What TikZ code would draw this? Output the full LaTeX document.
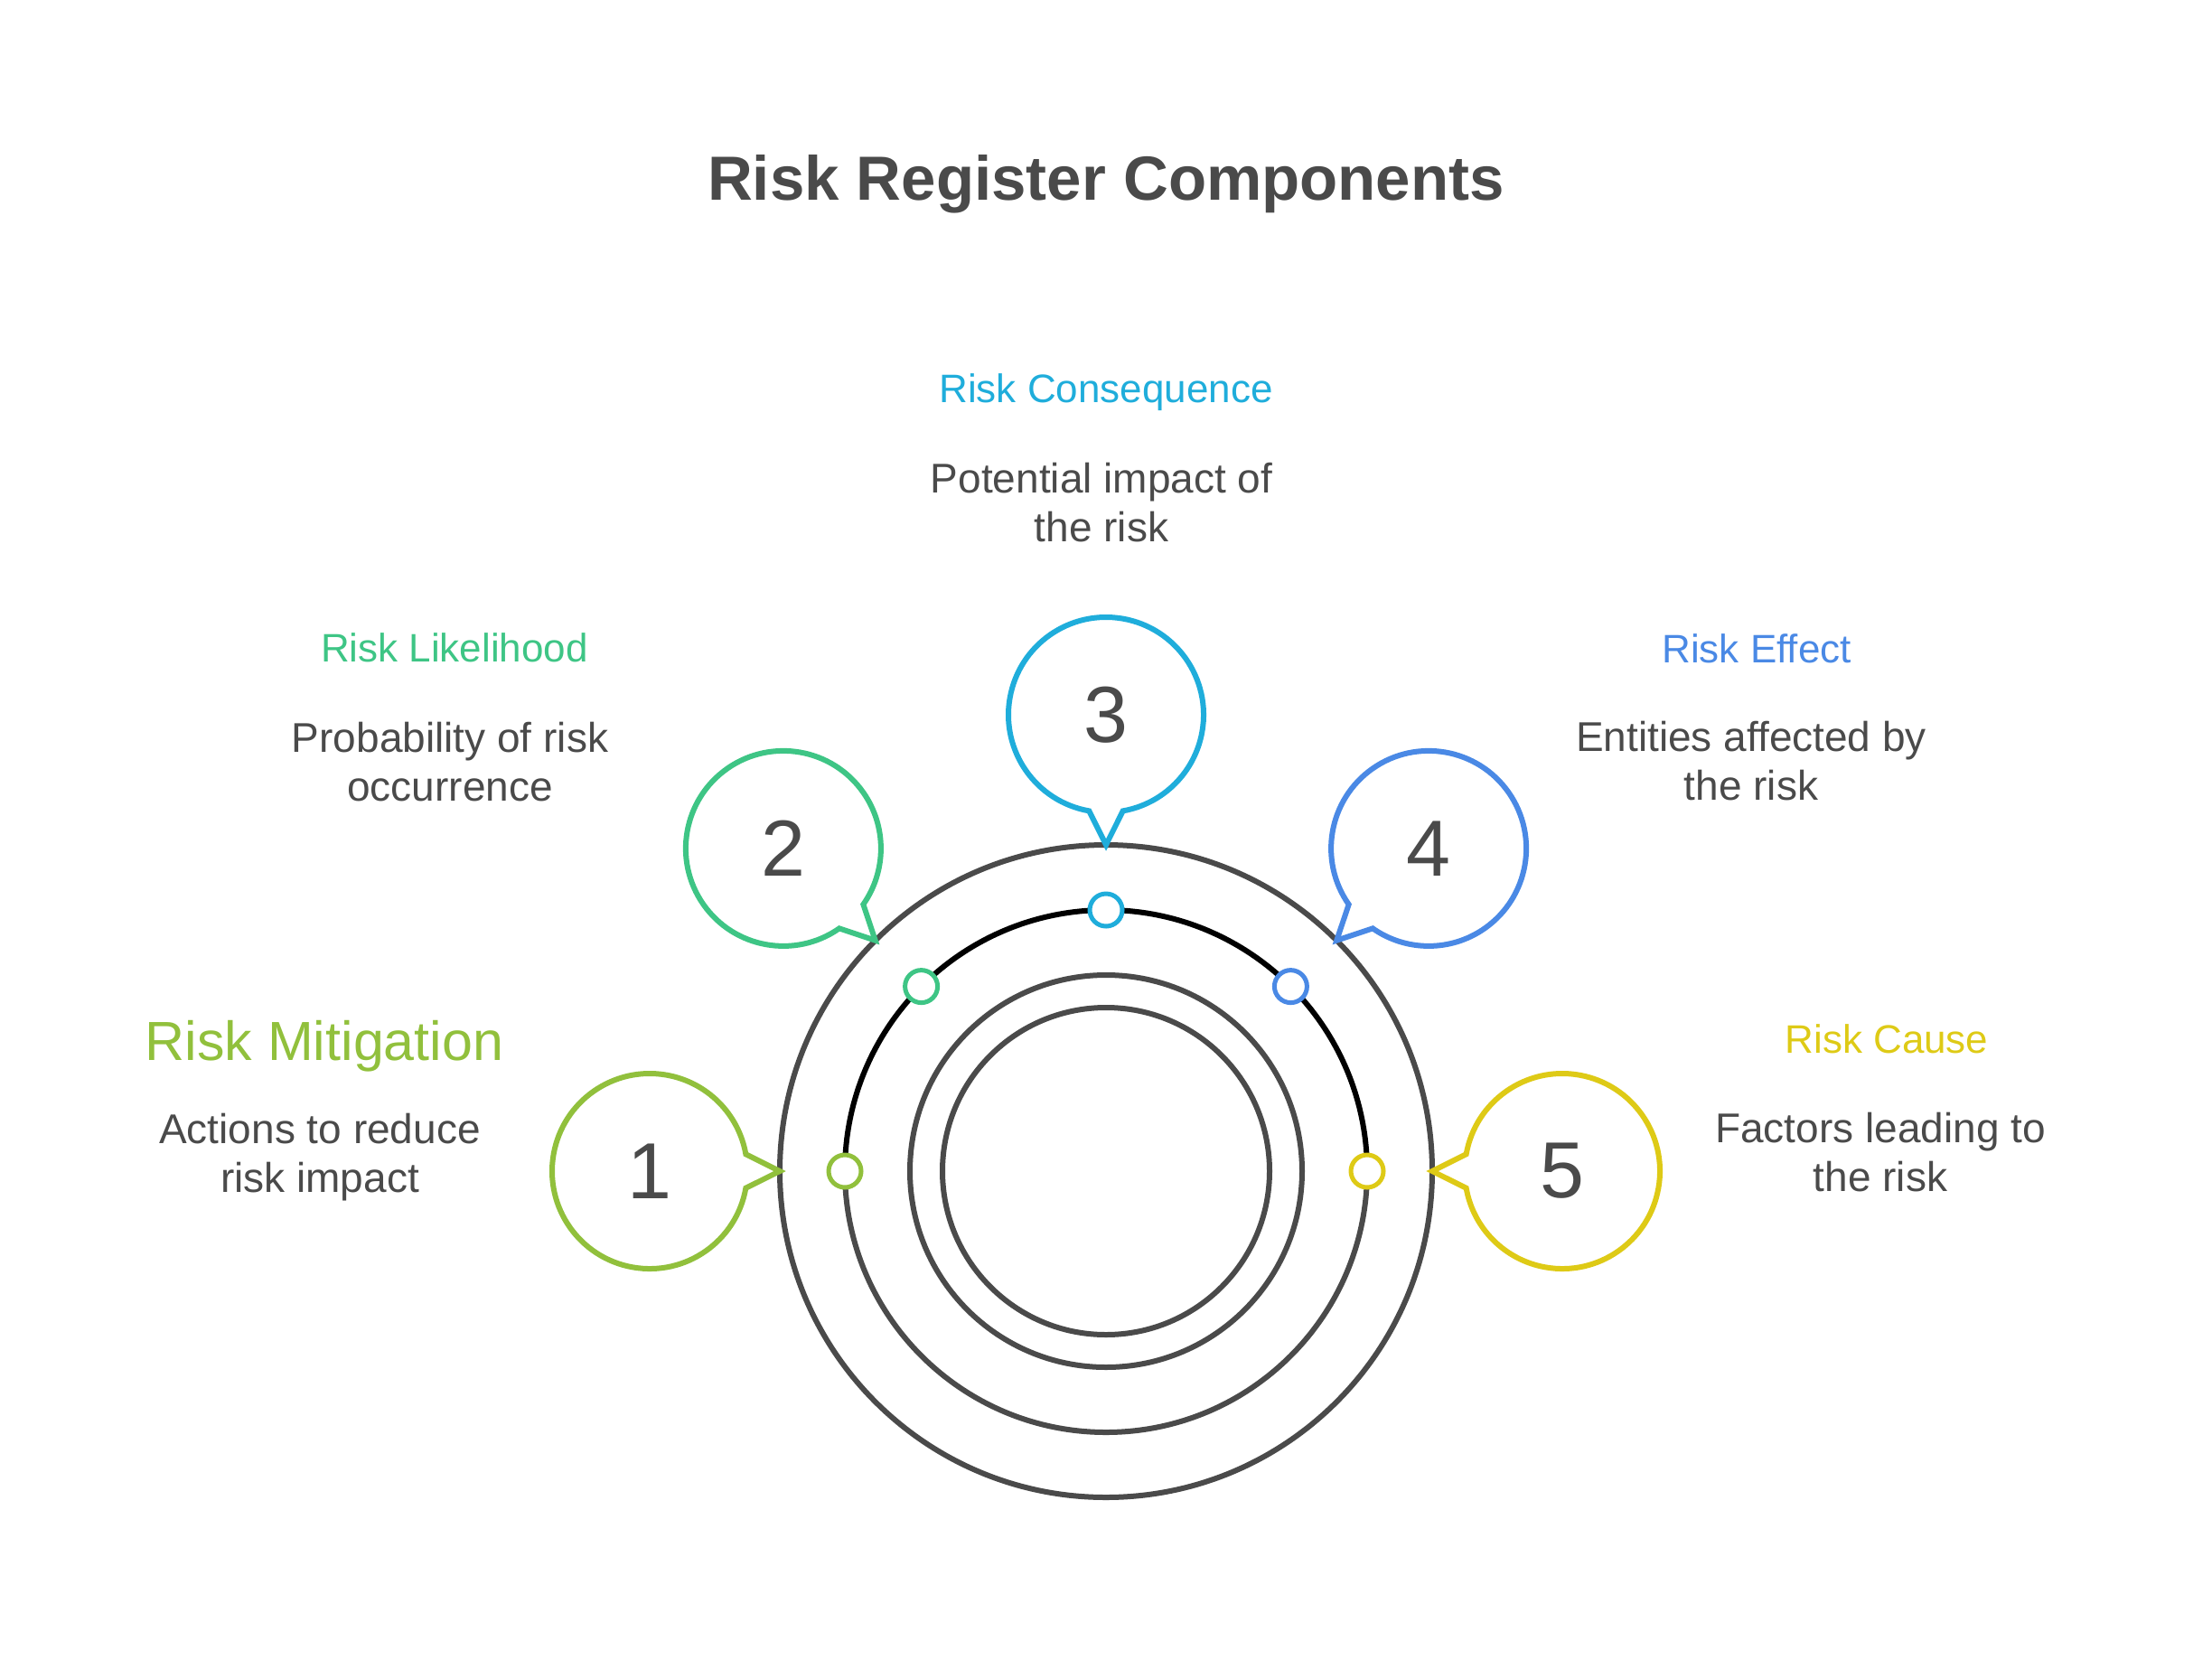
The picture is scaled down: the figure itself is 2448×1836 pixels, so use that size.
\documentclass[tikz,border=0pt]{standalone}
\usepackage{fontspec}
\setmainfont{Liberation Sans}
\definecolor{darkgrey}{HTML}{4A4A4A}
\definecolor{mitgreen}{HTML}{91C03C}
\definecolor{likgreen}{HTML}{3EC585}
\definecolor{concyan}{HTML}{1FADDB}
\definecolor{effblue}{HTML}{4A89E5}
\definecolor{causeyellow}{HTML}{DECA16}
\tikzset{
  ring/.style={draw=darkgrey, line width=6},
  bubble/.style={draw=#1, line width=6, line join=miter, fill=white},
  dot/.style={draw=#1, line width=5, fill=white},
  numtext/.style={text=darkgrey, inner sep=0, font=\fontsize{88}{100}\selectfont},
  headtext/.style={text=#1, anchor=base, inner sep=0, font=\fontsize{44}{54}\selectfont},
  desctext/.style={text=darkgrey, anchor=base, inner sep=0, align=center, font=\fontsize{46}{54}\selectfont}
}
\begin{document}
\begin{tikzpicture}[x=1pt,y=1pt,yscale=-1,xscale=1]
\useasboundingbox (0,0) rectangle (2448,1836);

%Shape: Circle [outer ring]
\draw[ring] (1224,1296) circle[radius=361];
%Shape: Arc [middle ring, lower half]
\draw[ring] (1513,1296) arc[start angle=0, end angle=180, radius=289];
%Shape: Arc [middle ring, upper half]
\draw[black, line width=6] (935,1296) arc[start angle=180, end angle=360, radius=289];
%Shape: Circle
\draw[ring] (1224,1296) circle[radius=217];
%Shape: Circle
\draw[ring] (1224,1296) circle[radius=181];

%Callout 1
\draw[bubble=mitgreen] (719,1296) ++(10:108) arc[start angle=10, end angle=350, radius=108] -- (863,1296) -- cycle;
%Callout 2
\draw[bubble=likgreen] (866.9,938.9) ++(55:108) arc[start angle=55, end angle=395, radius=108] -- (968.7,1040.7) -- cycle;
%Callout 3
\draw[bubble=concyan] (1224,791) ++(100:108) arc[start angle=100, end angle=440, radius=108] -- (1224,935) -- cycle;
%Callout 4
\draw[bubble=effblue] (1581.1,938.9) ++(145:108) arc[start angle=145, end angle=485, radius=108] -- (1479.3,1040.7) -- cycle;
%Callout 5
\draw[bubble=causeyellow] (1729,1296) ++(190:108) arc[start angle=190, end angle=530, radius=108] -- (1585,1296) -- cycle;

%Shape: Circle [markers on middle ring]
\draw[dot=mitgreen] (935,1296) circle[radius=18];
\draw[dot=likgreen] (1019.6,1091.6) circle[radius=18];
\draw[dot=concyan] (1224,1007) circle[radius=18];
\draw[dot=effblue] (1428.4,1091.6) circle[radius=18];
\draw[dot=causeyellow] (1513,1296) circle[radius=18];

% Text Node
\node[numtext] (num1) at (719,1296) {1};
% Text Node
\node[numtext] (num2) at (866.9,938.9) {2};
% Text Node
\node[numtext] (num3) at (1224,791) {3};
% Text Node
\node[numtext] (num4) at (1581.1,938.9) {4};
% Text Node
\node[numtext] (num5) at (1729,1296) {5};

% Text Node
\node[text=darkgrey, anchor=base, inner sep=0, font=\fontsize{69}{80}\selectfont\bfseries] (title) at (1224,221) {Risk Register Components};

% Text Node
\node[headtext=mitgreen, font=\fontsize{61}{70}\selectfont] (headmit) at (359,1173) {Risk Mitigation};
% Text Node
\node[desctext] (descmit) at (354,1319) {Actions to reduce\\risk impact};
% Text Node
\node[headtext=likgreen] (headlik) at (503,732) {Risk Likelihood};
% Text Node
\node[desctext] (desclik) at (498,886) {Probability of risk\\occurrence};
% Text Node
\node[headtext=concyan] (headcon) at (1224,445) {Risk Consequence};
% Text Node
\node[desctext] (desccon) at (1219,599) {Potential impact of\\the risk};
% Text Node
\node[headtext=effblue] (headeff) at (1944,733) {Risk Effect};
% Text Node
\node[desctext] (desceff) at (1938,885) {Entities affected by\\the risk};
% Text Node
\node[headtext=causeyellow] (headcau) at (2088,1165) {Risk Cause};
% Text Node
\node[desctext] (desccau) at (2081,1318) {Factors leading to\\the risk};

\end{tikzpicture}
\end{document}
